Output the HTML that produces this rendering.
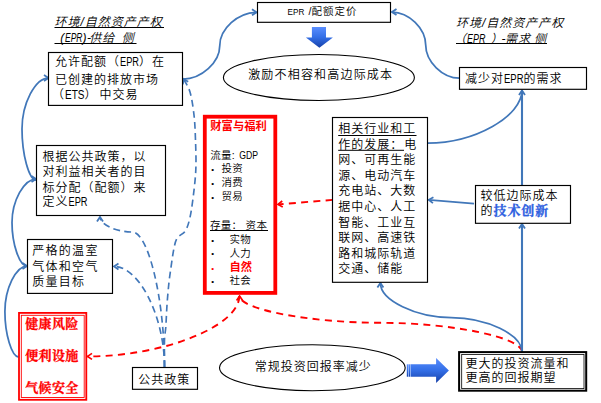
<!DOCTYPE html>
<html lang="zh"><head><meta charset="utf-8"><title>EPR</title>
<style>
html,body{margin:0;padding:0;background:#fff;}
svg{display:block;font-family:"Liberation Sans","Noto Sans CJK SC",sans-serif;font-weight:350;}
</style></head><body>
<svg width="601" height="403" viewBox="0 0 601 403">
<rect x="0" y="0" width="601" height="403" fill="#fff"/>
<defs>
<marker id="ab" viewBox="0 0 10 10" refX="8.5" refY="5" markerWidth="10" markerHeight="10" orient="auto-start-reverse" markerUnits="userSpaceOnUse">
<path d="M4,2 L8.5,5 L4,8" fill="none" stroke="#4177b9" stroke-width="1.8"/></marker>
<marker id="ar" viewBox="0 0 10 10" refX="8.5" refY="5" markerWidth="10" markerHeight="10" orient="auto-start-reverse" markerUnits="userSpaceOnUse">
<path d="M4,2 L8.5,5 L4,8" fill="none" stroke="#ff0000" stroke-width="1.7"/></marker>
<linearGradient id="gb" x1="0" y1="0" x2="0" y2="1">
<stop offset="0" stop-color="#5a8eff"/><stop offset="0.5" stop-color="#336ee6"/><stop offset="1" stop-color="#1640a8"/></linearGradient>
</defs>
<path d="M18.7,357 C11.80,357 4.90,334.25 4.90,311.50 C4.90,288.75 15.95,266 27,266" fill="none" stroke="#4177b9" stroke-width="1.75" stroke-linecap="butt" marker-end="url(#ab)"/>
<path d="M27,266 C19.50,266 12.00,244.25 12.00,222.50 C12.00,200.75 24.00,179 36,179" fill="none" stroke="#4177b9" stroke-width="1.75" stroke-linecap="butt" marker-end="url(#ab)"/>
<path d="M36,180 C29.00,180 22.00,154.50 22.00,129.00 C22.00,103.50 35.25,78 48.5,78" fill="none" stroke="#4177b9" stroke-width="1.75" stroke-linecap="butt" marker-end="url(#ab)"/>
<path d="M183,79 C201.38,79 219.75,62.33 219.75,45.65 C219.75,28.97 238.12,12.3 256.5,12.3" fill="none" stroke="#4177b9" stroke-width="1.75" stroke-linecap="butt" marker-end="url(#ab)"/>
<path d="M459.4,78.2 C442.55,78.2 425.70,61.65 425.70,45.10 C425.70,28.55 408.85,12 392,12" fill="none" stroke="#4177b9" stroke-width="1.75" stroke-linecap="butt" marker-end="url(#ab)"/>
<path d="M164.5,367 C164.5,299.50 148.38,232.00 132.25,232.00 C116.12,232.00 100,224.50 100,217" fill="none" stroke="#4177b9" stroke-width="1.65" stroke-linecap="butt" stroke-dasharray="6.8,4.3" marker-end="url(#ab)"/>
<path d="M164.5,367 C164.5,316.70 139.25,266.4 114,266.4" fill="none" stroke="#4177b9" stroke-width="1.65" stroke-linecap="butt" stroke-dasharray="6.8,4.3" marker-end="url(#ab)"/>
<path d="M164.5,367 C164.50,362.50 164.28,346.67 164.5,340 C164.72,333.33 165.38,332.83 165.8,327 C166.22,321.17 166.52,312.00 167,305 C167.48,298.00 168.13,290.58 168.7,285 C169.27,279.42 169.55,277.47 170.4,271.5 C171.25,265.53 172.67,254.78 173.8,249.2 C174.93,243.62 175.33,240.98 177.2,238 C179.07,235.02 182.97,234.30 185,231.3 C187.03,228.30 188.10,225.22 189.4,220 C190.70,214.78 191.73,208.33 192.8,200 C193.87,191.67 195.35,180.00 195.8,170 C196.25,160.00 195.80,149.17 195.5,140 C195.20,130.83 194.92,123.00 194,115 C193.08,107.00 191.75,98.00 190,92 C188.25,86.00 184.58,81.17 183.5,79" fill="none" stroke="#4177b9" stroke-width="1.65" stroke-linecap="butt" stroke-dasharray="6.8,4.3" marker-end="url(#ab)"/>
<path d="M239.3,296 C239.3,326.20 163.40,356.4 87.5,356.4" fill="none" stroke="#ff0000" stroke-width="1.9" stroke-linecap="butt" stroke-dasharray="7,5.3" marker-end="url(#ar)"/>
<path d="M522,352 C522,337.40 451.40,322.80 380.80,322.80 C310.20,322.80 239.6,309.40 239.6,296" fill="none" stroke="#ff0000" stroke-width="1.9" stroke-linecap="butt" stroke-dasharray="7,5.3" marker-end="url(#ar)"/>
<path d="M332.6,199.9 L278,204.4" fill="none" stroke="#ff0000" stroke-width="1.9" stroke-linecap="butt" stroke-dasharray="7,5.3" marker-end="url(#ar)"/>
<path d="M522,352 C522,334.75 486.60,317.50 451.20,317.50 C415.80,317.50 380.4,300.25 380.4,283" fill="none" stroke="#4177b9" stroke-width="1.75" stroke-linecap="butt" marker-end="url(#ab)"/>
<path d="M522,352 L522,224" fill="none" stroke="#4177b9" stroke-width="2.1" stroke-linecap="butt" marker-end="url(#ab)"/>
<path d="M522,185 L522,90.5" fill="none" stroke="#4177b9" stroke-width="2.1" stroke-linecap="butt" marker-end="url(#ab)"/>
<path d="M427.6,143 C474.80,143 522,116.50 522,90" fill="none" stroke="#4177b9" stroke-width="1.75" stroke-linecap="butt"/>
<path d="M474,203.6 L428.7,199.8" fill="none" stroke="#4177b9" stroke-width="1.75" stroke-linecap="butt" marker-end="url(#ab)"/>
<rect x="48.5" y="52.5" width="134.00" height="52.90" fill="#fff" stroke="#000" stroke-width="1.15"/>
<rect x="36.5" y="145.5" width="129.00" height="70.00" fill="#fff" stroke="#000" stroke-width="1.15"/>
<rect x="27.5" y="239.5" width="85.00" height="53.90" fill="#fff" stroke="#000" stroke-width="1.15"/>
<rect x="132.5" y="367.5" width="65.00" height="21.80" fill="#fff" stroke="#000" stroke-width="1.15"/>
<rect x="257.5" y="2.5" width="133.00" height="19.80" fill="#fff" stroke="#000" stroke-width="1.15"/>
<rect x="459.5" y="67.5" width="127.00" height="21.80" fill="#fff" stroke="#000" stroke-width="1.15"/>
<rect x="332.5" y="117.5" width="95.00" height="164.80" fill="#fff" stroke="#000" stroke-width="1.15"/>
<rect x="475.5" y="185.5" width="95.00" height="37.80" fill="#fff" stroke="#000" stroke-width="1.15"/>
<rect x="204.8" y="116.7" width="70.50" height="176.20" fill="#fff" stroke="#ff0000" stroke-width="3.8"/>
<rect x="19" y="312.9" width="67.30" height="86.90" fill="#fff" stroke="#ff0000" stroke-width="1.8"/>
<rect x="21.3" y="315.3" width="62.90" height="82.20" fill="none" stroke="#ff0000" stroke-width="0.9"/>
<rect x="459.1" y="352.1" width="127.10" height="38.60" fill="#fff" stroke="#000" stroke-width="2"/>
<rect x="461.7" y="354.5" width="122.30" height="34.10" fill="none" stroke="#000" stroke-width="0.8"/>
<ellipse cx="318.9" cy="77.5" rx="95.5" ry="23" fill="#fff" stroke="#000" stroke-width="1.1"/>
<ellipse cx="312.35" cy="367.75" rx="92.85" ry="23" fill="#fff" stroke="#000" stroke-width="1.1"/>
<path d="M311.9,26.9 L326,26.9 L326,37.4 L332.9,37.4 L319.4,47.8 L305.9,37.4 L311.9,37.4 Z" fill="url(#gb)"/>
<path d="M410.8,364.3 L436.1,364.3 L436.1,358 L448.9,370.5 L436.1,382.9 L436.1,376.7 L410.8,376.7 Z" fill="url(#gb)"/>
<rect x="406.8" y="364.3" width="1.2" height="12.4" fill="url(#gb)"/><rect x="408.8" y="364.3" width="1.2" height="12.4" fill="url(#gb)"/>
<rect x="408" y="364.3" width="0.8" height="12.4" fill="#7fa6f2"/><rect x="410" y="364.3" width="0.8" height="12.4" fill="#7fa6f2"/>
<text x="54.5" y="26" font-size="12" fill="#000" font-style="italic"  letter-spacing="1">环境/自然资产产权</text>
<text x="52.5" y="42" font-size="12" fill="#000" font-style="italic"  letter-spacing="0.6">&#160;&#160;(<tspan font-size="12" letter-spacing="0" textLength="17.5" lengthAdjust="spacingAndGlyphs">EPR</tspan>)-</text>
<text x="89.3" y="42" font-size="12" fill="#000" font-style="italic"  letter-spacing="1">供给</text>
<text x="121.8" y="42" font-size="12" fill="#000" font-style="italic"  letter-spacing="1">侧</text>
<line x1="54.5" y1="27.5" x2="164" y2="27.5" stroke="#000" stroke-width="1"/>
<line x1="54.5" y1="43.5" x2="136.5" y2="43.5" stroke="#000" stroke-width="1"/>
<text x="456" y="26.5" font-size="12" fill="#000" font-style="italic"  letter-spacing="1">环境/自然资产产权</text>
<text x="454" y="42.5" font-size="12" fill="#000" font-style="italic"  letter-spacing="1">（<tspan font-size="12" letter-spacing="0" textLength="18.5" lengthAdjust="spacingAndGlyphs">EPR</tspan></text>
<text x="490.5" y="42.5" font-size="12" fill="#000" font-style="italic"  letter-spacing="1">）</text>
<text x="501.5" y="42.5" font-size="12" fill="#000" font-style="italic"  letter-spacing="1">-</text>
<text x="505" y="42.5" font-size="12" fill="#000" font-style="italic"  letter-spacing="1">需求</text>
<text x="534" y="42.5" font-size="12" fill="#000" font-style="italic"  letter-spacing="1">侧</text>
<line x1="456" y1="43.5" x2="547" y2="43.5" stroke="#000" stroke-width="1"/>
<text x="55" y="66.2" font-size="12" fill="#000"  letter-spacing="1">允许配额（<tspan font-size="12" letter-spacing="0" textLength="19" lengthAdjust="spacingAndGlyphs">EPR</tspan>）在</text>
<text x="55" y="83.6" font-size="12" fill="#000"  letter-spacing="1">已创建的排放市场</text>
<text x="52" y="98.5" font-size="12" fill="#000"  letter-spacing="1">（<tspan font-size="12" letter-spacing="0" textLength="19.5" lengthAdjust="spacingAndGlyphs">ETS</tspan>）</text>
<text x="99.5" y="98.5" font-size="12" fill="#000"  letter-spacing="1">中交易</text>
<text x="42.5" y="160.7" font-size="12" fill="#000"  letter-spacing="1">根据公共政策，以</text>
<text x="42.5" y="176.3" font-size="12" fill="#000"  letter-spacing="1">对利益相关者的目</text>
<text x="42.5" y="191.7" font-size="12" fill="#000"  letter-spacing="1">标分配（配额）来</text>
<text x="42.5" y="206.1" font-size="12" fill="#000"  letter-spacing="1">定义<tspan font-size="12" letter-spacing="0" textLength="19" lengthAdjust="spacingAndGlyphs">EPR</tspan></text>
<text x="32.2" y="254.8" font-size="12" fill="#000"  letter-spacing="1.3">严格的温室</text>
<text x="32.2" y="270.6" font-size="12" fill="#000"  letter-spacing="1.3">气体和空气</text>
<text x="32.2" y="285.8" font-size="12" fill="#000"  letter-spacing="1.3">质量目标</text>
<text x="25.3" y="328" font-size="13" fill="#ff0000" font-weight="bold" font-family='"Liberation Serif","Noto Serif CJK SC",serif'  stroke="#f00" stroke-width="0.3" letter-spacing="0.3">健康风险</text>
<text x="25.3" y="359.8" font-size="13" fill="#ff0000" font-weight="bold" font-family='"Liberation Serif","Noto Serif CJK SC",serif'  stroke="#f00" stroke-width="0.3" letter-spacing="0.3">便利设施</text>
<text x="25.3" y="391.8" font-size="13" fill="#ff0000" font-weight="bold" font-family='"Liberation Serif","Noto Serif CJK SC",serif'  stroke="#f00" stroke-width="0.3" letter-spacing="0.3">气候安全</text>
<text x="138.3" y="384" font-size="12" fill="#000"  letter-spacing="1">公共政策</text>
<text x="248.2" y="79" font-size="12" fill="#000"  letter-spacing="1.18">激励不相容和高边际成本</text>
<text x="254.8" y="371.4" font-size="12" fill="#000"  letter-spacing="1">常规投资回报率减少</text>
<text x="465.4" y="368.2" font-size="12" fill="#000"  letter-spacing="1">更大的投资流量和</text>
<text x="465.4" y="381.8" font-size="12" fill="#000"  letter-spacing="1">更高的回报期望</text>
<text x="287.5" y="15.3" font-size="9.5" fill="#000"  letter-spacing="0"><tspan font-size="9.5" letter-spacing="0" textLength="16.8" lengthAdjust="spacingAndGlyphs">EPR</tspan></text>
<text x="308.5" y="15.3" font-size="10.5" fill="#000"  letter-spacing="0">/</text>
<text x="311.5" y="15.3" font-size="10.5" fill="#000"  letter-spacing="1">配额定价</text>
<text x="465" y="82.5" font-size="12" fill="#000"  letter-spacing="1">减少对<tspan font-size="12" letter-spacing="0" textLength="19.5" lengthAdjust="spacingAndGlyphs">EPR</tspan>的需求</text>
<text x="338.2" y="133.2" font-size="12" fill="#000"  letter-spacing="1">相关行业和工</text>
<line x1="338.2" y1="135.5" x2="416.5" y2="135.5" stroke="#000" stroke-width="1"/>
<text x="338.2" y="148.8" font-size="12" fill="#000"  letter-spacing="1">作的发展：</text>
<text x="404.2" y="148.8" font-size="12" fill="#000"  letter-spacing="1">电</text>
<line x1="338.2" y1="150.3" x2="404" y2="150.3" stroke="#000" stroke-width="1"/>
<text x="338.2" y="164.3" font-size="12" fill="#000"  letter-spacing="1">网、可再生能</text>
<text x="338.2" y="179.8" font-size="12" fill="#000"  letter-spacing="1">源、电动汽车</text>
<text x="338.2" y="195.4" font-size="12" fill="#000"  letter-spacing="1">充电站、大数</text>
<text x="338.2" y="210.9" font-size="12" fill="#000"  letter-spacing="1">据中心、人工</text>
<text x="338.2" y="226.5" font-size="12" fill="#000"  letter-spacing="1">智能、工业互</text>
<text x="338.2" y="242.1" font-size="12" fill="#000"  letter-spacing="1">联网、高速铁</text>
<text x="338.2" y="257.6" font-size="12" fill="#000"  letter-spacing="1">路和城际轨道</text>
<text x="338.2" y="273.1" font-size="12" fill="#000"  letter-spacing="1">交通、储能</text>
<text x="480.5" y="200.2" font-size="12" fill="#000"  letter-spacing="1">较低边际成本</text>
<text x="480.5" y="215" font-size="12" fill="#000"  letter-spacing="1">的<tspan fill="#2f5fe0" font-size="13" letter-spacing="0.9" stroke="#2f5fe0" stroke-width="0.3" font-weight="bold" font-family='"Liberation Serif","Noto Serif CJK SC",serif'>技术创新</tspan></text>
<text x="210.3" y="130.2" font-size="11.3" fill="#ff0000" font-weight="bold"  letter-spacing="0">财富与福利</text>
<text x="210.3" y="158.5" font-size="10.5" fill="#000"  letter-spacing="0.2">流量:</text>
<text x="239.3" y="158.5" font-size="10.5" fill="#000"  letter-spacing="0"><tspan font-size="10.5" letter-spacing="0" textLength="18.8" lengthAdjust="spacingAndGlyphs">GDP</tspan></text>
<text x="211.3" y="171.5" font-size="8" fill="#000"  letter-spacing="1">•</text>
<text x="221.5" y="172" font-size="10.5" fill="#000"  letter-spacing="0.3">投资</text>
<text x="211.3" y="185.5" font-size="8" fill="#000"  letter-spacing="1">•</text>
<text x="221.5" y="186" font-size="10.5" fill="#000"  letter-spacing="0.3">消费</text>
<text x="211.3" y="199.5" font-size="8" fill="#000"  letter-spacing="1">•</text>
<text x="221.5" y="200" font-size="10.5" fill="#000"  letter-spacing="0.3">贸易</text>
<text x="210" y="229" font-size="10.5" fill="#000"  letter-spacing="0.3">存量： 资本</text>
<line x1="210" y1="230.5" x2="268" y2="230.5" stroke="#000" stroke-width="1"/>
<text x="211.3" y="242.5" font-size="8" fill="#000"  letter-spacing="1">•</text>
<text x="229.5" y="243" font-size="10.5" fill="#000"  letter-spacing="0.3">实物</text>
<text x="211.3" y="256.3" font-size="8" fill="#000"  letter-spacing="1">•</text>
<text x="229.5" y="256.8" font-size="10.5" fill="#000"  letter-spacing="0.3">人力</text>
<text x="211.3" y="283.5" font-size="8" fill="#000"  letter-spacing="1">•</text>
<text x="229.5" y="284" font-size="10.5" fill="#000"  letter-spacing="0.3">社会</text>
<text x="211.3" y="270.5" font-size="8" fill="#ff0000"  letter-spacing="1">•</text>
<text x="229.5" y="271.2" font-size="11.3" fill="#ff0000" font-weight="bold"  letter-spacing="0">自然</text>
</svg>
</body></html>
